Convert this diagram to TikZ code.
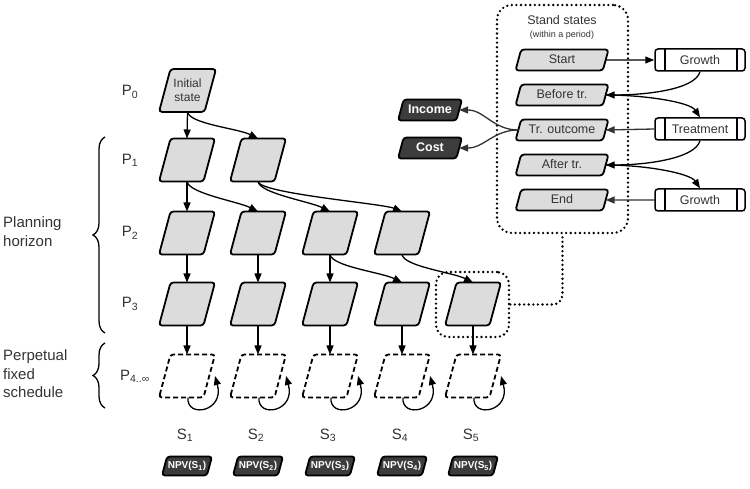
\documentclass[tikz,border=0pt]{standalone}
\usepackage{fontspec}
\setmainfont{Liberation Sans}
\usetikzlibrary{shapes.geometric, arrows.meta, decorations.pathreplacing, calc}
\definecolor{boxgray}{HTML}{DCDCDC}
\definecolor{darkbox}{HTML}{3C3C3C}
\definecolor{txt}{HTML}{333333}
\tikzset{
  para/.style={trapezium, trapezium left angle=75, trapezium right angle=105, trapezium stretches body, rounded corners=3pt, line width=1.8pt, inner xsep=0pt, outer sep=0pt},
  pbox/.style={para, draw, fill=boxgray, minimum width=56pt, text height=0pt, text depth=0pt, inner ysep=21.5pt},
  ibox/.style={para, draw, fill=boxgray, minimum width=57pt, inner ysep=10pt, text=txt, align=center, font=\fontsize{12}{14}\selectfont},
  dbox/.style={para, draw, dash pattern=on 5pt off 3pt, minimum width=56pt, text height=0pt, text depth=0pt, inner ysep=21.5pt},
  sbox/.style={para, draw, fill=boxgray, minimum width=93pt, text height=9pt, text depth=2.5pt, inner ysep=4.75pt, font=\fontsize{12.5}{14}\selectfont, text=txt},
  npv/.style={para, draw, fill=darkbox, minimum width=50pt, text height=7.5pt, text depth=2.5pt, inner ysep=4.5pt, text=white, font=\fontsize{10}{12}\selectfont\bfseries},
  money/.style={para, draw, fill=darkbox, minimum width=64pt, text height=9pt, text depth=2pt, inner ysep=5pt, text=white, font=\fontsize{12.5}{14}\selectfont\bfseries},
  proc/.style={rectangle, draw, rounded corners=3pt, line width=1.5pt, minimum width=90pt, minimum height=22pt, inner sep=0pt, font=\fontsize{12.5}{14}\selectfont, text=txt,
    path picture={\draw[line width=2.6pt] ([xshift=10pt]path picture bounding box.north west) -- ([xshift=10pt]path picture bounding box.south west);
                  \draw[line width=2.6pt] ([xshift=-8pt]path picture bounding box.north east) -- ([xshift=-8pt]path picture bounding box.south east);}},
  arr/.style={line width=1.3pt, -{Triangle[length=9pt, width=7pt]}},
  garr/.style={arr, draw=txt},
  dotline/.style={line width=2.6pt, dash pattern=on 0pt off 4.6pt, line cap=round},
  dotbox/.style={draw, dotline, rounded corners=12pt, minimum width=#1},
  lbl/.style={font=\fontsize{15}{19}\selectfont, text=txt},
  bracestyle/.style={line width=1.3pt, decorate, decoration={brace, amplitude=12pt}},
}
\begin{document}
\begin{tikzpicture}[x=1pt, y=-1pt]
\useasboundingbox (0,0) rectangle (750,489);

% ---- tree ----
\node[ibox] (p0) at (187.5,90.5) {Initial\\state};
\node[pbox] (p11) at (187,160) {};
\node[pbox] (p12) at (258,160) {};
\node[pbox] (p21) at (187,233) {};
\node[pbox] (p22) at (258,233) {};
\node[pbox] (p23) at (330,233) {};
\node[pbox] (p24) at (402,233) {};
\node[pbox] (p31) at (187,304) {};
\node[pbox] (p32) at (258,304) {};
\node[pbox] (p33) at (330,304) {};
\node[pbox] (p34) at (402,304) {};
\node[pbox] (p35) at (473,304) {};
\node[dbox] (p41) at (187,376) {};
\node[dbox] (p42) at (258,376) {};
\node[dbox] (p43) at (330,376) {};
\node[dbox] (p44) at (402,376) {};
\node[dbox] (p45) at (473,376) {};

\draw[arr] (p0.south) -- (p11.north);
\draw[arr] (p0.south) .. controls +(2,12) and +(-20,-10) .. (p12.north);
\draw[arr] (p11.south) -- (p21.north);
\draw[arr] (p11.south) .. controls +(2,12) and +(-20,-10) .. (p22.north);
\draw[arr] (p12.south) .. controls +(2,12) and +(-20,-10) .. (p23.north);
\draw[arr] (p12.south) .. controls +(2,12) and +(-20,-8) .. (p24.north);
\draw[arr] (p21.south) -- (p31.north);
\draw[arr] (p22.south) -- (p32.north);
\draw[arr] (p23.south) -- (p33.north);
\draw[arr] (p23.south) .. controls +(2,12) and +(-20,-10) .. (p34.north);
\draw[arr] (p24.south) .. controls +(2,12) and +(-20,-10) .. (p35.north);
\foreach \c in {1,...,5}{
  \draw[arr] (p3\c.south) -- (p4\c.north);
  \draw[arr] ([xshift=1pt]p4\c.south) .. controls +(-2,21) and +(10,36) .. ([xshift=28pt]p4\c.center);
}

% ---- S labels and NPV ----
\node[lbl] (s1) at (185,435) {S\textsubscript{1}};
\node[lbl] (s2) at (256,435) {S\textsubscript{2}};
\node[lbl] (s3) at (328,435) {S\textsubscript{3}};
\node[lbl] (s4) at (400,435) {S\textsubscript{4}};
\node[lbl] (s5) at (471,435) {S\textsubscript{5}};
\node[npv] (n1) at (187,466) {NPV(S\textsubscript{1})};
\node[npv] (n2) at (258,466) {NPV(S\textsubscript{2})};
\node[npv] (n3) at (330,466) {NPV(S\textsubscript{3})};
\node[npv] (n4) at (402,466) {NPV(S\textsubscript{4})};
\node[npv] (n5) at (473,466) {NPV(S\textsubscript{5})};

% ---- period labels ----
\node[lbl] (lp0) at (130,92) {P\textsubscript{0}};
\node[lbl] (lp1) at (130,160) {P\textsubscript{1}};
\node[lbl] (lp2) at (130,233) {P\textsubscript{2}};
\node[lbl] (lp3) at (130,304) {P\textsubscript{3}};
\node[lbl, anchor=east, inner sep=0pt] (lp4) at (150,376) {P\textsubscript{4..∞}};

\node[lbl, anchor=west, align=left, inner sep=0pt] (ph) at (3,232) {Planning\\horizon};
\node[lbl, anchor=west, align=left, inner sep=0pt, font=\fontsize{15}{18.5}\selectfont] (pf) at (3,374) {Perpetual\\fixed\\schedule};
\draw[bracestyle] (105,333) -- (105,137);
\draw[bracestyle] (105,408) -- (105,343);

% ---- highlight and stand states ----
\node[dotbox=73pt, minimum height=65pt] (hl) at (472.5,304.5) {};
\node[dotbox=131pt, minimum height=228pt, rounded corners=15pt] (ss) at (562.5,119) {};
\draw[dotline, rounded corners=10pt] (hl.east) -| (ss.south);
\node[font=\fontsize{12.5}{14}\selectfont, text=txt] (sst) at (562,20) {Stand states};
\node[font=\fontsize{9}{11}\selectfont, text=txt] (ssw) at (562,35) {(within a period)};

\node[sbox] (start) at (562,60) {Start};
\node[sbox] (before) at (562,95) {Before tr.};
\node[sbox] (trout) at (562,130) {Tr. outcome};
\node[sbox] (after) at (562,165) {After tr.};
\node[sbox] (end) at (562,200) {End};

\node[proc] (g1) at (700,60) {Growth};
\node[proc] (treat) at (700,129) {Treatment};
\node[proc] (g2) at (700,200) {Growth};

\node[money] (income) at (430,110) {Income};
\node[money] (cost) at (430,148) {Cost};

\draw[arr] (start.east) -- (g1.west);
\draw[arr] (g1.south) .. controls +(-5,18) and +(40,0) .. (before.east);
\draw[arr] (before.east) .. controls +(40,0) and +(-10,-15) .. (treat.north);
\draw[garr] (treat.west) -- (trout.east);
\draw[arr] (treat.south) .. controls +(-5,18) and +(40,0) .. (after.east);
\draw[arr] (after.east) .. controls +(40,0) and +(-10,-15) .. (g2.north);
\draw[garr] (g2.west) -- (end.east);
\draw[garr] (trout.west) .. controls +(-25,0) and +(25,0) .. (income.east);
\draw[garr] (trout.west) .. controls +(-25,0) and +(25,0) .. (cost.east);
\end{tikzpicture}
\end{document}
